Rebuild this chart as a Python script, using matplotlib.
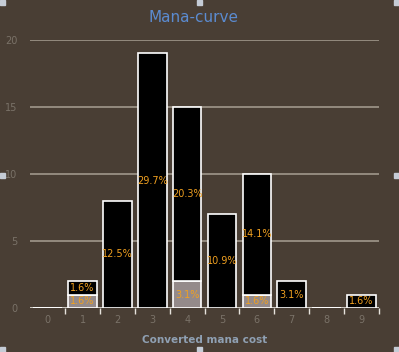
import matplotlib
matplotlib.use("Agg")
import matplotlib.pyplot as plt
from matplotlib.patches import Rectangle

costs = [0, 1, 2, 3, 4, 5, 6, 7, 8, 9]
gray_counts = [0, 1, 0, 0, 2, 0, 1, 0, 0, 0]
black_counts = [0, 1, 8, 19, 13, 7, 9, 2, 0, 1]
yticks = [0, 5, 10, 15, 20]
title = "Mana-curve"
xlabel = "Converted mana cost"

BG = "#493e34"
W, H = 399, 352
fig = plt.figure(figsize=(W / 100, H / 100), dpi=100, facecolor=BG)
ax = fig.add_axes([30.2 / W, 44 / H, 348.8 / W, 268 / H], facecolor=BG)

total = sum(gray_counts) + sum(black_counts)
bw = 0.82
ax.bar(costs, gray_counts, width=bw, color="#948a8a", edgecolor="white", linewidth=1.2, zorder=3)
ax.bar(costs, black_counts, width=bw, bottom=gray_counts, color="black", edgecolor="white", linewidth=1.2, zorder=3)

for x, g, b in zip(costs, gray_counts, black_counts):
    if g > 0:
        ax.text(x, g / 2, f"{100 * g / total:.1f}%", ha="center", va="center",
                color="#f0a020", fontsize=7, zorder=4)
    if b > 0:
        ax.text(x, g + b / 2, f"{100 * b / total:.1f}%", ha="center", va="center",
                color="#f0a020", fontsize=7, zorder=4)

ax.set_xlim(-0.5, 9.5)
ax.set_ylim(0, 20)
ax.set_yticks(yticks)
for y in yticks[1:]:
    ax.axhline(y, color="#a89f92", linewidth=1.1, zorder=1)
ax.axhline(0, color="#e6e2dc", linewidth=1.2, zorder=2)

for s in ax.spines.values():
    s.set_visible(False)

ax.set_xticks(costs)
ax.set_xticklabels([str(c) for c in costs])
ax.set_xticks([c + 0.5 for c in costs], minor=True)
ax.tick_params(axis="x", which="major", length=0, pad=5, labelsize=7, labelcolor="#7a7268")
ax.tick_params(axis="x", which="minor", length=4, width=1, color="#e6e2dc", direction="out")
ax.tick_params(axis="y", length=0, pad=9, labelsize=7, labelcolor="#7a7268")

fig.text(193.5 / W, 1 - 18 / H, title, color="#5b8bd0", fontsize=11, ha="center", va="center")
ax.set_xlabel(xlabel, color="#8fa0b3", fontsize=7.5, fontweight="bold", labelpad=7)

# corner / edge handles
hs = 5
for px, py in [(0, 0), (197, 0), (W - hs, 0), (0, 173), (W - hs, 173),
               (0, H - hs), (197, H - hs), (W - hs, H - hs)]:
    fig.patches.append(Rectangle((px / W, 1 - (py + hs) / H), hs / W, hs / H,
                                 transform=fig.transFigure, color="#c5ccd6", zorder=10))

fig.savefig("out.png", dpi=100, facecolor=BG)
